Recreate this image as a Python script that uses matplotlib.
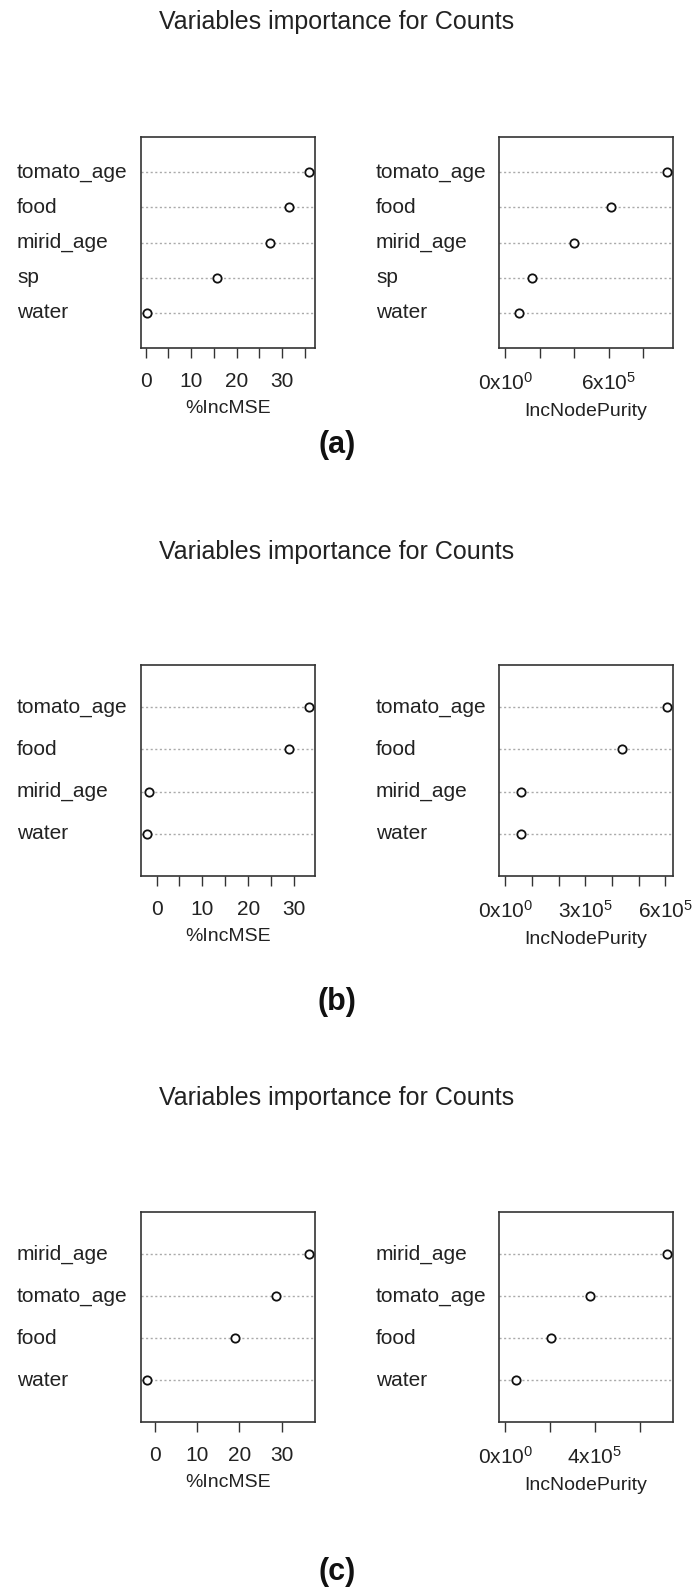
import matplotlib
matplotlib.use('Agg')
import matplotlib.pyplot as plt
from matplotlib.transforms import blended_transform_factory

plt.rcParams['font.family'] = ['Liberation Sans', 'DejaVu Sans']
plt.rcParams['mathtext.fontset'] = 'custom'
plt.rcParams['mathtext.rm'] = 'Liberation Sans'
plt.rcParams['mathtext.default'] = 'regular'

# values (top row of each chart first)
a_vars = ['tomato_age', 'food', 'mirid_age', 'sp', 'water']
a_mse = [35.8, 31.4, 27.4, 15.7, 0.4]
a_purity = [9.35e5, 6.1e5, 4.0e5, 1.55e5, 0.8e5]

b_vars = ['tomato_age', 'food', 'mirid_age', 'water']
b_mse = [33.2, 28.9, -1.6, -2.0]
b_purity = [6.04e5, 4.36e5, 0.57e5, 0.57e5]

c_vars = ['mirid_age', 'tomato_age', 'food', 'water']
c_mse = [36.3, 28.7, 18.9, -1.7]
c_purity = [7.2e5, 3.77e5, 2.05e5, 0.48e5]

# ticks and which of them carry a label (R drops overlapping ones)
a_mse_ticks = [0, 5, 10, 15, 20, 25, 30, 35]
a_mse_labels = ['0', '', '10', '', '20', '', '30', '']
a_pur_ticks = [0, 2e5, 4e5, 6e5, 8e5]
a_pur_labels = ['0x10$^0$', '', '', '6x10$^5$', '']

b_mse_ticks = [0, 5, 10, 15, 20, 25, 30]
b_mse_labels = ['0', '', '10', '', '20', '', '30']
b_pur_ticks = [0, 1e5, 2e5, 3e5, 4e5, 5e5, 6e5]
b_pur_labels = ['0x10$^0$', '', '', '3x10$^5$', '', '', '6x10$^5$']

c_mse_ticks = [0, 10, 20, 30]
c_mse_labels = ['0', '10', '20', '30']
c_pur_ticks = [0, 2e5, 4e5, 6e5]
c_pur_labels = ['0x10$^0$', '', '4x10$^5$', '']

W, H = 699, 1587
fig = plt.figure(figsize=(W / 100, H / 100), dpi=100)

txt_col = '#222222'


def px_rect(x0, y0, x1, y1):
    return [x0 / W, 1 - y1 / H, (x1 - x0) / W, (y1 - y0) / H]


def dotchart(rect, label_x, names, vals, xmin, xlab, ticks, tlabels):
    ax = fig.add_axes(px_rect(*rect))
    n = len(names)
    ys = list(range(n, 0, -1))
    lo = min(vals) if xmin is None else xmin
    hi = max(vals)
    pad = 0.04 * (hi - lo)
    ax.set_xlim(lo - pad, hi + pad)
    ax.set_ylim(0, n + 1)
    for y in ys:
        ax.axhline(y, color='#aaaaaa', lw=1.0, ls=(0, (1.5, 1.8)), zorder=1)
    ax.plot(vals, ys, 'o', mfc='white', mec='#111111', mew=1.3, ms=6, zorder=3)
    ax.set_yticks([])
    ax.set_xticks(ticks)
    ax.set_xticklabels(tlabels)
    ax.tick_params(axis='x', direction='out', length=7, width=1.0,
                   colors='#333333', labelcolor=txt_col, labelsize=15, pad=10)
    ax.set_xlabel(xlab, fontsize=14, color=txt_col, labelpad=7)
    for s in ax.spines.values():
        s.set_linewidth(1.2)
        s.set_color('#333333')
    tr = blended_transform_factory(fig.transFigure, ax.transData)
    for y, nm in zip(ys, names):
        ax.text(label_x / W, y, nm, transform=tr, ha='left', va='center',
                fontsize=15, color=txt_col)
    return ax


panels = [
    (137, 348, a_vars, a_mse, a_purity, a_mse_ticks, a_mse_labels, a_pur_ticks, a_pur_labels, 22, 445, '(a)'),
    (665, 876, b_vars, b_mse, b_purity, b_mse_ticks, b_mse_labels, b_pur_ticks, b_pur_labels, 552, 1002, '(b)'),
    (1212, 1422, c_vars, c_mse, c_purity, c_mse_ticks, c_mse_labels, c_pur_ticks, c_pur_labels, 1098, 1572, '(c)'),
]

for top, bot, names, mse, pur, mt, ml, pt, pl, ty, ly, tag in panels:
    dotchart((141, top, 315, bot), 17, names, mse, None, '%IncMSE', mt, ml)
    dotchart((499, top, 673, bot), 376, names, pur, 0, 'IncNodePurity', pt, pl)
    fig.text(337 / W, 1 - ty / H, 'Variables importance for Counts',
             ha='center', va='center', fontsize=18, color=txt_col)
    fig.text(337 / W, 1 - ly / H, tag, ha='center', va='center',
             fontsize=22, fontweight='bold', color='#111111')

fig.savefig('out.png', dpi=100)
